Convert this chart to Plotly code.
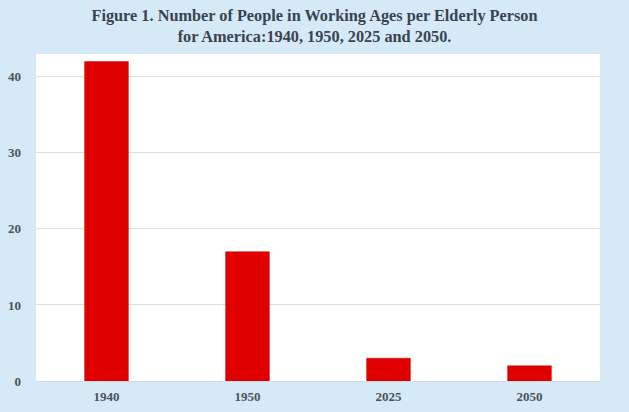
import plotly.graph_objects as go

categories = ["1940", "1950", "2025", "2050"]
values = [42, 17, 3, 2]
y_ticks = [0, 10, 20, 30, 40]

title_text = ("Figure 1. Number of People in Working Ages per Elderly Person<br>"
              "for America:1940, 1950, 2025 and 2050.")

fig = go.Figure(go.Bar(
    x=categories, y=values,
    marker=dict(color="#e00000", line=dict(color="#c00000", width=0.5)),
    hoverinfo="x+y",
))

font_family = "Liberation Serif, Times New Roman, serif"

fig.update_layout(
    width=629, height=412,
    margin=dict(l=36, r=29, t=54, b=31),
    paper_bgcolor="#d5e9f7",
    plot_bgcolor="#ffffff",
    bargap=0.69,
    showlegend=False,
    title=dict(
        text=title_text,
        x=0.5, xanchor="center",
        y=0.95, yanchor="top",
        automargin=False,
        font=dict(family=font_family, size=16.3, color="#3a4450", weight="bold"),
    ),
    xaxis=dict(
        type="category",
        automargin=False,
        showgrid=False, showline=False, zeroline=False,
        ticks="",
        tickfont=dict(family=font_family, size=13, color="#4a535c", weight="bold"),
        ticklabelstandoff=6,
    ),
    yaxis=dict(
        range=[0, 43],
        automargin=False,
        tickvals=y_ticks,
        showgrid=True, gridcolor="#dedede", gridwidth=1,
        zeroline=True, zerolinecolor="#d9d9d9", zerolinewidth=1,
        showline=False, ticks="",
        tickfont=dict(family=font_family, size=13, color="#4a535c", weight="bold"),
        ticklabelstandoff=14,
    ),
)

fig.write_html(
    "out.html",
    config={"displayModeBar": False},
    post_script="document.body.style.margin='0';",
)
